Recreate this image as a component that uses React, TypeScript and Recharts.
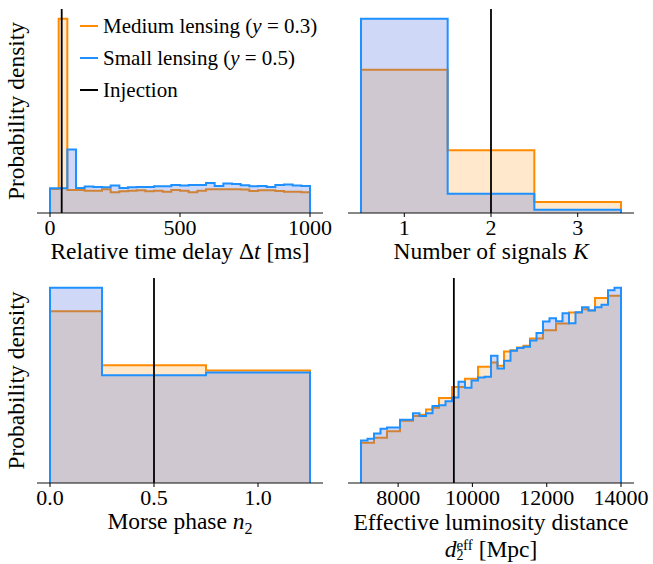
import React from 'react';
import { ComposedChart, Area, XAxis, YAxis, ReferenceLine } from 'recharts';

const W = 653;
const H = 564;
const SERIF = "'Liberation Serif', 'Times New Roman', 'DejaVu Serif', serif";

const MEDIUM_LINE = '#ff8c00';
const MEDIUM_FILL = '#ff8c00';
const SMALL_LINE = '#1e90ff';
const SMALL_FILL = '#4169e1';

// ---- Relative time delay Δt [ms]: 30 equal bins on [0, 1000] ----
const delayRange: [number, number] = [0, 1000];
const delayBinCount = 30;
const delayMedium = [
  24, 194, 23, 23, 22.3, 22.3, 23.7, 20.7, 21.7, 22.3,
  22.7, 21.7, 22.3, 21.3, 23, 22.3, 20.7, 22.3, 23.7, 23.7,
  23.7, 23.7, 23.5, 22, 22.7, 22.7, 22, 21.3, 21.3, 20.7,
];
const delaySmall = [
  25, 25, 64, 25.3, 26.7, 26.3, 26, 27.7, 25.3, 26,
  26.3, 26.3, 27, 27, 28.3, 27.7, 28.3, 28.3, 30.3, 27.3,
  29.7, 29.3, 28, 27, 27.3, 26.3, 28.3, 28.7, 27.7, 27.3,
];
const delayInjection = 45;
const delayTicks = [0, 500, 1000];

// ---- Number of signals K ----
const signalEdges = [0.5, 1.5, 2.5, 3.5];
const signalMedium = [143.3, 62.7, 11];
const signalSmall = [194.3, 19.3, 3.3];
const signalInjection = 2;
const signalTicks = [1, 2, 3];

// ---- Morse phase n2 ----
const morseEdges = [0, 0.25, 0.75, 1.25];
const morseMedium = [171, 117.3, 112];
const morseSmall = [194.3, 107.3, 110];
const morseInjection = 0.5;
const morseTicks = [0, 0.5, 1];

// ---- Effective luminosity distance d2eff [Mpc]: 40 equal bins on [7000, 14000] ----
const distanceRange: [number, number] = [7000, 14000];
const distanceBinCount = 40;
const distanceMedium = [
  40, 40, 45, 45, 51.7, 51.7, 62, 62, 66.7, 68,
  73.3, 75, 84.7, 84.7, 95.7, 95.7, 104, 104, 116, 116,
  120, 117, 131, 132.3, 135, 136.7, 144, 144, 152.3, 152.3,
  159, 159, 170, 170, 173.3, 172.3, 184.3, 184.3, 186.7, 186.7,
];
const distanceSmall = [
  42.3, 44, 49.3, 54, 55.3, 55.3, 63, 63, 69.3, 66.7,
  69.3, 76.7, 77.3, 81.3, 85, 100.7, 94.7, 102, 105, 105.7,
  126.7, 114, 121.7, 131.7, 134.3, 135.7, 141.7, 149.3, 160.7, 164,
  161, 169, 159, 170, 175, 171.7, 175, 177.3, 191.7, 194.3,
];
const distanceInjection = 9500;
const distanceTicks = [8000, 10000, 12000, 14000];

type Pt = { x: number; y: number };

function uniformEdges([lo, hi]: [number, number], n: number): number[] {
  const step = (hi - lo) / n;
  return Array.from({ length: n + 1 }, (_, i) => lo + i * step);
}

// Normalise bin heights to a probability density and build a closed step outline.
function stepOutline(edges: number[], heights: number[]): Pt[] {
  const area = heights.reduce((s, h, i) => s + h * (edges[i + 1] - edges[i]), 0);
  const dens = heights.map((h) => h / area);
  const pts: Pt[] = [{ x: edges[0], y: 0 }];
  dens.forEach((d, i) => pts.push({ x: edges[i], y: d }));
  pts.push({ x: edges[edges.length - 1], y: dens[dens.length - 1] });
  pts.push({ x: edges[edges.length - 1], y: 0 });
  return pts;
}

type Frame = { left: number; top: number; right: number; bottom: number };

const AXIS_H = 40;

function HistPanel(props: {
  frame: Frame;
  edges: number[];
  medium: number[];
  small: number[];
  injection: number;
  ticks: number[];
  fmt?: (v: number) => string;
}) {
  const { frame, edges, medium, small, injection, ticks, fmt } = props;
  const med = stepOutline(edges, medium);
  const sml = stepOutline(edges, small);
  const lo = edges[0];
  const hi = edges[edges.length - 1];
  const pad = (hi - lo) * 0.05;
  const xDomain: [number, number] = [lo - pad, hi + pad];
  const yMax = Math.max(...med.map((p) => p.y), ...sml.map((p) => p.y)) * 1.05;
  const yDomain: [number, number] = [0, yMax];
  const frameStroke = { stroke: '#111', strokeWidth: 1.1 };

  return (
    <div style={{ position: 'absolute', left: 0, top: 0 }}>
      <ComposedChart
        width={W}
        height={H}
        style={{ fontFamily: SERIF }}
        margin={{
          top: frame.top,
          left: frame.left,
          right: W - frame.right,
          bottom: H - frame.bottom - AXIS_H,
        }}
      >
        <XAxis
          xAxisId="b"
          type="number"
          dataKey="x"
          domain={xDomain}
          allowDataOverflow
          ticks={ticks}
          interval={0}
          tickFormatter={fmt ?? ((v: number) => String(v))}
          height={AXIS_H}
          axisLine={frameStroke}
          tickLine={{ stroke: '#111', strokeWidth: 1.1 }}
          tickSize={4}
          tickMargin={2}
          tick={{ fill: '#000', fontSize: 22, style: { fontFamily: SERIF } }}
        />
        <XAxis
          xAxisId="t"
          orientation="top"
          type="number"
          dataKey="x"
          domain={xDomain}
          allowDataOverflow
          height={0}
          tick={false}
          tickLine={false}
          axisLine={frameStroke}
        />
        <YAxis
          yAxisId="l"
          type="number"
          domain={yDomain}
          allowDataOverflow
          width={0}
          tick={false}
          tickLine={false}
          axisLine={frameStroke}
        />
        <YAxis
          yAxisId="r"
          orientation="right"
          type="number"
          domain={yDomain}
          allowDataOverflow
          width={0}
          tick={false}
          tickLine={false}
          axisLine={frameStroke}
        />
        <Area
          xAxisId="b"
          yAxisId="l"
          data={med}
          dataKey="y"
          type="stepAfter"
          stroke={MEDIUM_LINE}
          strokeWidth={2}
          fill={MEDIUM_FILL}
          fillOpacity={0.2}
          dot={false}
          activeDot={false}
          isAnimationActive={false}
        />
        <Area
          xAxisId="b"
          yAxisId="l"
          data={sml}
          dataKey="y"
          type="stepAfter"
          stroke={SMALL_LINE}
          strokeWidth={2}
          fill={SMALL_FILL}
          fillOpacity={0.25}
          dot={false}
          activeDot={false}
          isAnimationActive={false}
        />
        <ReferenceLine xAxisId="b" yAxisId="l" x={injection} stroke="#000" strokeWidth={1.8} />
      </ComposedChart>
    </div>
  );
}

const TL: Frame = { left: 37, top: 9, right: 323, bottom: 213 };
const TR: Frame = { left: 348, top: 9, right: 634, bottom: 213 };
const BL: Frame = { left: 37, top: 278, right: 323, bottom: 483 };
const BR: Frame = { left: 348, top: 278, right: 634, bottom: 483 };

const LABEL = 23.5;
const LEGEND = 21;

function Labels() {
  const cx = (f: Frame) => (f.left + f.right) / 2;
  const cy = (f: Frame) => (f.top + f.bottom) / 2;
  return (
    <svg
      width={W}
      height={H}
      style={{ position: 'absolute', left: 0, top: 0, pointerEvents: 'none', fontFamily: SERIF }}
      fill="#000"
    >
      {/* y-axis labels */}
      <text x={24} y={cy(TL)} fontSize={LABEL} textAnchor="middle" transform={`rotate(-90 24 ${cy(TL)})`}>
        Probability density
      </text>
      <text x={24} y={cy(BL)} fontSize={LABEL} textAnchor="middle" transform={`rotate(-90 24 ${cy(BL)})`}>
        Probability density
      </text>

      {/* x-axis labels */}
      <text x={cx(TL)} y={TL.bottom + 46} fontSize={LABEL} textAnchor="middle">
        Relative time delay Δ<tspan fontStyle="italic">t</tspan> [ms]
      </text>
      <text x={cx(TR)} y={TR.bottom + 46} fontSize={LABEL} textAnchor="middle">
        Number of signals <tspan fontStyle="italic">K</tspan>
      </text>
      <text x={cx(BL)} y={BL.bottom + 46} fontSize={LABEL} textAnchor="middle">
        Morse phase <tspan fontStyle="italic">n</tspan>
        <tspan fontSize={16} dy={5}>2</tspan>
      </text>
      <text x={cx(BR)} y={BR.bottom + 47} fontSize={LABEL} textAnchor="middle">
        Effective luminosity distance
      </text>
      <text x={cx(BR)} y={BR.bottom + 74} fontSize={LABEL} textAnchor="middle">
        <tspan fontStyle="italic">d</tspan>
        <tspan fontSize={14} dy={3}>2</tspan>
        <tspan fontSize={15} dx={-7} dy={-10}>eff</tspan>
        <tspan dy={7}> [Mpc]</tspan>
      </text>

      {/* legend */}
      <line x1={80} x2={98} y1={26} y2={26} stroke={MEDIUM_LINE} strokeWidth={2} />
      <text x={103} y={33} fontSize={LEGEND}>
        Medium lensing (<tspan fontStyle="italic">y</tspan> = 0.3)
      </text>
      <line x1={80} x2={98} y1={58} y2={58} stroke={SMALL_LINE} strokeWidth={2} />
      <text x={103} y={65} fontSize={LEGEND}>
        Small lensing (<tspan fontStyle="italic">y</tspan> = 0.5)
      </text>
      <line x1={80} x2={98} y1={90} y2={90} stroke="#000" strokeWidth={2} />
      <text x={103} y={97} fontSize={LEGEND}>
        Injection
      </text>
    </svg>
  );
}

export default function App() {
  return (
    <div style={{ position: 'absolute', left: 0, top: 0, width: W, height: H, background: '#fff', overflow: 'hidden' }}>
      <HistPanel
        frame={TL}
        edges={uniformEdges(delayRange, delayBinCount)}
        medium={delayMedium}
        small={delaySmall}
        injection={delayInjection}
        ticks={delayTicks}
      />
      <HistPanel
        frame={TR}
        edges={signalEdges}
        medium={signalMedium}
        small={signalSmall}
        injection={signalInjection}
        ticks={signalTicks}
      />
      <HistPanel
        frame={BL}
        edges={morseEdges}
        medium={morseMedium}
        small={morseSmall}
        injection={morseInjection}
        ticks={morseTicks}
        fmt={(v: number) => v.toFixed(1)}
      />
      <HistPanel
        frame={BR}
        edges={uniformEdges(distanceRange, distanceBinCount)}
        medium={distanceMedium}
        small={distanceSmall}
        injection={distanceInjection}
        ticks={distanceTicks}
      />
      <Labels />
    </div>
  );
}
